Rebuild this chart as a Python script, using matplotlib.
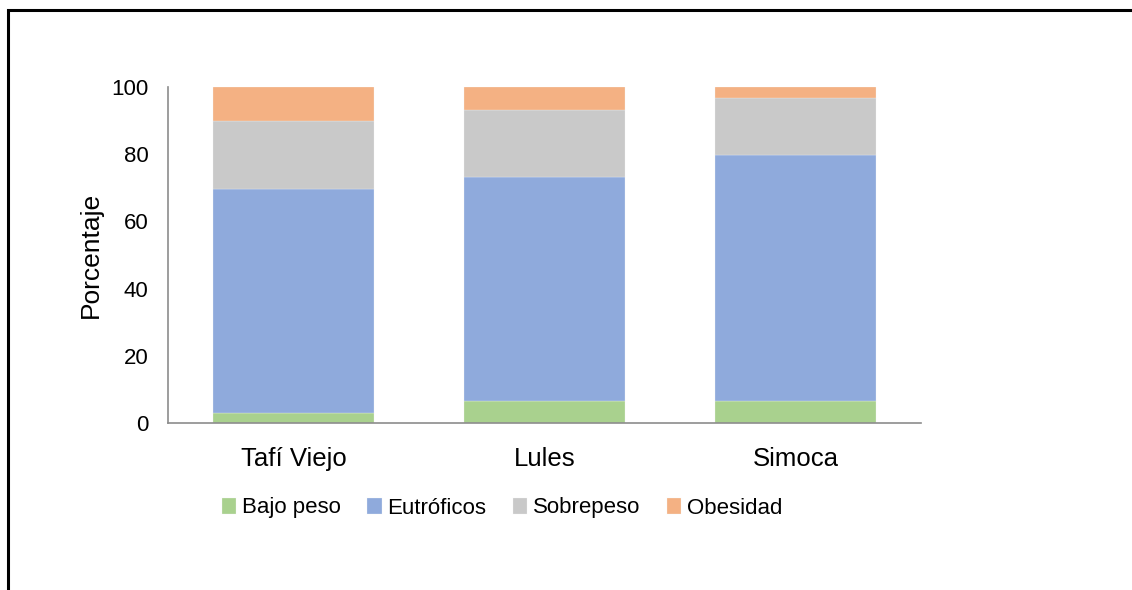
"""Stacked bar chart of nutritional status by locality."""

import matplotlib

matplotlib.use("Agg")
import matplotlib.pyplot as plt
from matplotlib.patches import Rectangle

plt.rcParams["font.family"] = ["Liberation Sans", "DejaVu Sans"]

localidades = ["Tafí Viejo", "Lules", "Simoca"]
categorias = ["Bajo peso", "Eutróficos", "Sobrepeso", "Obesidad"]
bajo_peso = [2.9, 6.5, 6.5]
eutroficos = [66.8, 66.8, 73.3]
sobrepeso = [20.2, 19.8, 17.0]
obesidad = [10.1, 6.9, 3.2]
y_ticks = [0, 20, 40, 60, 80, 100]

colores = ["#A9D18E", "#8FAADC", "#C9C9C9", "#F4B183"]
series = [bajo_peso, eutroficos, sobrepeso, obesidad]

W, H = 1132, 590
fig = plt.figure(figsize=(W / 100, H / 100), dpi=100)
ax = fig.add_axes([168 / W, 1 - 423 / H, (921 - 168) / W, (423 - 87) / H])

x = range(len(localidades))
base = [0.0] * len(localidades)
for nombre, valores, color in zip(categorias, series, colores):
    ax.bar(x, valores, width=0.64, bottom=base, color=color,
           edgecolor="#F2F2F2", linewidth=0.2, label=nombre)
    base = [b + v for b, v in zip(base, valores)]

ax.set_xlim(-0.5, len(localidades) - 0.5)
ax.set_ylim(0, 100)
ax.set_yticks(y_ticks)
ax.set_xticks(list(x))
ax.set_xticklabels(localidades, fontsize=18.5)
ax.tick_params(axis="y", labelsize=16, length=0, pad=14)
ax.tick_params(axis="x", length=0, pad=17)
ax.set_ylabel("Porcentaje", fontsize=19, labelpad=6)

for side in ("top", "right"):
    ax.spines[side].set_visible(False)
for side in ("left", "bottom"):
    ax.spines[side].set_color("#8C8C8C")
    ax.spines[side].set_linewidth(1.2)

fig.legend(loc="center", bbox_to_anchor=(502 / W, 1 - 508 / H), ncol=4,
           frameon=False, fontsize=16, handlelength=0.65, handleheight=0.75,
           handletextpad=0.25, columnspacing=1.2)

# outer frame of the chart area (only left and top edges fall inside the image)
fig.add_artist(Rectangle((8 / W, -0.5), 2.0, 1.5 - 10 / H,
                         transform=fig.transFigure, fill=False,
                         edgecolor="black", linewidth=2.2))

fig.savefig("out.png", dpi=100)
